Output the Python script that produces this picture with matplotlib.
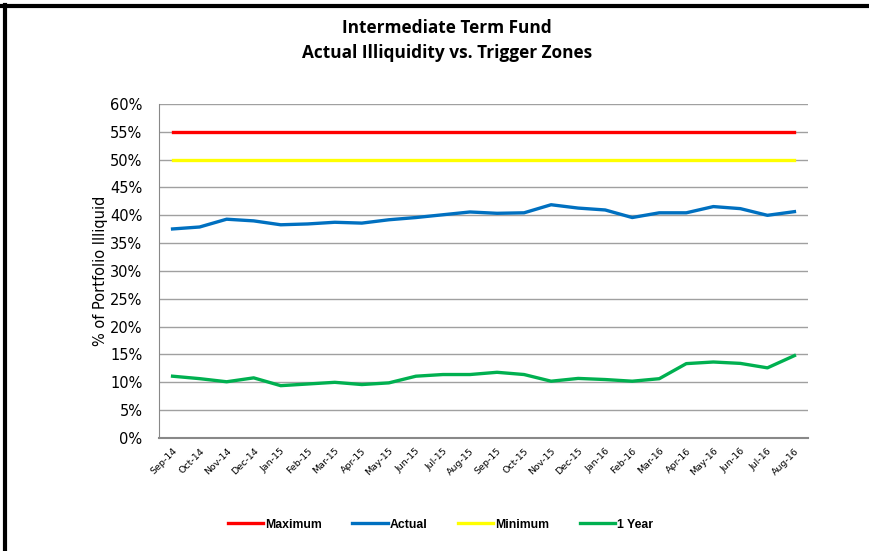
import matplotlib.pyplot as plt
from matplotlib.lines import Line2D
from matplotlib.ticker import FuncFormatter

months = ['Sep-14', 'Oct-14', 'Nov-14', 'Dec-14', 'Jan-15', 'Feb-15', 'Mar-15', 'Apr-15',
          'May-15', 'Jun-15', 'Jul-15', 'Aug-15', 'Sep-15', 'Oct-15', 'Nov-15', 'Dec-15',
          'Jan-16', 'Feb-16', 'Mar-16', 'Apr-16', 'May-16', 'Jun-16', 'Jul-16', 'Aug-16']
maximum = [55.0] * 24
minimum = [50.0] * 24
actual = [37.55, 37.9, 39.3, 39.0, 38.3, 38.45, 38.75, 38.6, 39.2, 39.6, 40.1, 40.6,
          40.36, 40.45, 41.9, 41.3, 40.96, 39.6, 40.45, 40.45, 41.57, 41.2, 40.0, 40.66]
one_year = [11.1, 10.66, 10.1, 10.8, 9.4, 9.7, 10.0, 9.6, 9.9, 11.1, 11.4, 11.4,
            11.8, 11.4, 10.2, 10.7, 10.5, 10.2, 10.65, 13.36, 13.65, 13.4, 12.6, 14.8]

fig = plt.figure(figsize=(8.7, 5.51), dpi=100)
ax = fig.add_axes([0.1828, 0.2051, 0.7459, 0.6062])

x = range(len(months))
lw = 2.4
ax.plot(x, maximum, color='#ff0000', lw=lw, label='Maximum')
ax.plot(x, actual, color='#0070c0', lw=lw, label='Actual')
ax.plot(x, minimum, color='#ffff00', lw=lw, label='Minimum')
ax.plot(x, one_year, color='#00b050', lw=lw, label='1 Year')

ax.set_xlim(-0.5, len(months) - 0.5)
ax.set_ylim(0, 60)
ax.set_yticks(range(0, 61, 5))
ax.yaxis.set_major_formatter(FuncFormatter(lambda v, p: f'{v:.0f}%'))
ax.grid(axis='y', color='#a0a0a0', lw=1)
ax.set_axisbelow(True)
for s in ['top', 'right']:
    ax.spines[s].set_visible(False)
ax.spines['left'].set_color('#888888')
ax.spines['bottom'].set_color('#888888')
ax.spines['bottom'].set_linewidth(1.5)
ax.tick_params(axis='both', length=0)
ax.tick_params(axis='y', labelsize=10.5, pad=12)

ax.set_xticks(list(x))
ax.set_xticklabels(months, rotation=45, ha='right', rotation_mode='anchor', fontsize=6.8)
ax.tick_params(axis='x', pad=6)

ax.set_ylabel('% of Portfolio Illiquid', fontsize=10.5, labelpad=1)

fig.text(0.514, 0.949, 'Intermediate Term Fund', ha='center', va='center',
         fontsize=12.4, fontweight='bold', family='Open Sans')
fig.text(0.514, 0.903, 'Actual Illiquidity vs. Trigger Zones', ha='center', va='center',
         fontsize=12.4, fontweight='bold', family='Open Sans')

fig.legend(loc='center', bbox_to_anchor=(0.506, 0.048), ncol=4, frameon=False,
           prop={'family': 'Liberation Sans', 'weight': 'bold', 'size': 8.8},
           handlelength=2.9, handletextpad=0.15, columnspacing=2.5)

# frame lines of the original sheet
fig.add_artist(Line2D([0, 1], [0.989, 0.989], color='black', lw=3, transform=fig.transFigure))
fig.add_artist(Line2D([0.0052, 0.0052], [0, 0.991], color='black', lw=3, transform=fig.transFigure))

fig.savefig('out.png', dpi=100)
